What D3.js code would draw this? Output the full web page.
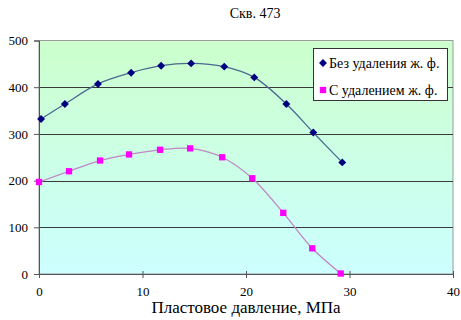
<!DOCTYPE html>
<html lang="ru">
<head>
<meta charset="utf-8">
<title>Скв. 473</title>
<script src="https://d3js.org/d3.v7.min.js"></script>
<style>
  body { margin: 0; background: #fff; }
  svg text { font-family: "Liberation Serif", "Times New Roman", "DejaVu Serif", serif !important; fill: #000; }
  .axis path, .axis line { stroke: #555; }
</style>
</head>
<body>
<script>
// chart data
const title = "Скв. 473";
const xTitle = "Пластовое давление, МПа";
const seriesNames = ["Без удаления ж. ф.", "С удалением ж. ф."];
const pressure1 = [0.2, 2.5, 5.7, 8.9, 11.8, 14.7, 17.9, 20.8, 23.9, 26.5, 29.3];
const values1 = [332, 364, 407, 431, 446, 451, 444, 421, 364, 303, 239];
const pressure2 = [0, 2.9, 5.9, 8.7, 11.7, 14.6, 17.7, 20.6, 23.6, 26.4, 29.15];
const values2 = [197, 220, 243, 256, 266, 269, 250, 205, 131, 55, 1];
const xTicks = [0, 10, 20, 30, 40];
const yTicks = [0, 100, 200, 300, 400, 500];

const W = 461, H = 320;
const x0 = 39, x1 = 453, yTop = 40.5, yBot = 274;
const serif = "'Liberation Serif', 'Times New Roman', 'DejaVu Serif', serif";

const svg = d3.select("body").append("svg")
  .attr("width", W).attr("height", H);

const x = d3.scaleLinear().domain([0, 40]).range([x0, x1]);
const y = d3.scaleLinear().domain([0, 500]).range([yBot, yTop]);

// background gradient
const grad = svg.append("defs").append("linearGradient")
  .attr("id", "bg").attr("x1", 0).attr("y1", 0).attr("x2", 0).attr("y2", 1);
grad.append("stop").attr("offset", "0%").attr("stop-color", "#ccffcc");
grad.append("stop").attr("offset", "100%").attr("stop-color", "#ccffff");

svg.append("rect")
  .attr("x", x0).attr("y", yTop)
  .attr("width", x1 - x0).attr("height", yBot - yTop)
  .attr("fill", "url(#bg)")
  .attr("stroke", "#9a9a9a");

// gridlines
svg.append("g")
  .selectAll("line")
  .data(yTicks.filter(d => d > 0 && d < 500))
  .join("line")
  .attr("x1", x0).attr("x2", x1)
  .attr("y1", d => Math.round(y(d)) + 0.5)
  .attr("y2", d => Math.round(y(d)) + 0.5)
  .attr("stroke", "#3a3a3a");

// axes
svg.append("g")
  .attr("class", "axis")
  .attr("transform", `translate(0,${yBot})`)
  .call(d3.axisBottom(x).tickValues(xTicks).tickSize(4).tickPadding(9))
  .call(g => g.selectAll(".tick line").attr("y1", -3))
  .attr("font-family", serif).attr("font-size", 13);

svg.append("g")
  .attr("class", "axis")
  .attr("transform", `translate(${x0},0)`)
  .call(d3.axisLeft(y).tickValues(yTicks).tickSize(5).tickPadding(6))
  .attr("font-family", serif).attr("font-size", 13);

svg.selectAll(".axis .domain").attr("stroke", "#555");

// smoothed lines
const line = d3.line()
  .x(d => x(d[0])).y(d => y(d[1]))
  .curve(d3.curveCatmullRom.alpha(0.5));

const pts1 = pressure1.map((p, i) => [p, values1[i]]);
const pts2 = pressure2.map((p, i) => [p, values2[i]]);

svg.append("path").datum(pts1)
  .attr("d", line).attr("fill", "none")
  .attr("stroke", "#4a6890").attr("stroke-width", 1.3);
svg.append("path").datum(pts2)
  .attr("d", line).attr("fill", "none")
  .attr("stroke", "#c088c4").attr("stroke-width", 1.3);

// markers
const diamond = d3.symbol().type(d3.symbolDiamond2).size(40);
const square = d3.symbol().type(d3.symbolSquare).size(40);

svg.append("g").selectAll("path")
  .data(pts1).join("path")
  .attr("transform", d => `translate(${x(d[0])},${y(d[1])})`)
  .attr("d", diamond)
  .attr("fill", "#000080");

svg.append("g").selectAll("path")
  .data(pts2).join("path")
  .attr("transform", d => `translate(${x(d[0])},${y(d[1])})`)
  .attr("d", square)
  .attr("fill", "#ff00ff");

// title and axis title
svg.append("text")
  .attr("x", 255).attr("y", 18)
  .attr("text-anchor", "middle")
  .attr("font-family", serif)
  .attr("font-size", 14)
  .text(title);

svg.append("text")
  .attr("x", 246).attr("y", 313)
  .attr("text-anchor", "middle")
  .attr("font-family", serif)
  .attr("font-size", 17)
  .text(xTitle);

// legend
const legend = svg.append("g").attr("transform", "translate(313,48)");
legend.append("rect")
  .attr("x", 0.5).attr("y", 0.5)
  .attr("width", 134).attr("height", 52)
  .attr("fill", "#fff").attr("stroke", "#333");

const legendItems = legend.selectAll("g")
  .data(seriesNames).join("g")
  .attr("transform", (d, i) => `translate(0,${15 + i * 27})`);

legendItems.append("path")
  .attr("transform", "translate(10,0)")
  .attr("d", (d, i) => i === 0 ? diamond() : square())
  .attr("fill", (d, i) => i === 0 ? "#000080" : "#ff00ff");

legendItems.append("text")
  .attr("x", 16).attr("y", 5)
  .attr("font-family", serif)
  .attr("font-size", 14)
  .text(d => d);
</script>
</body>
</html>
